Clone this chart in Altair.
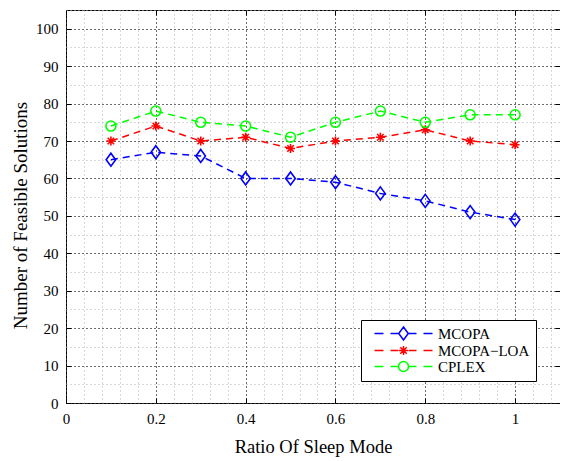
import altair as alt
import pandas as pd

# ---- data ----
ratios = [0.1, 0.2, 0.3, 0.4, 0.5, 0.6, 0.7, 0.8, 0.9, 1.0]
mcopa = [65, 67, 66, 60, 60, 59, 56, 54, 51, 49]
mcopa_loa = [70, 74, 70, 71, 68, 70, 71, 73, 70, 69]
cplex = [74, 78, 75, 74, 71, 75, 78, 75, 77, 77]
series_names = ["MCOPA", "MCOPA\u2212LOA", "CPLEX"]
series_colors = ["#0000FF", "#FF0000", "#00FF00"]

x_major = [0, 0.2, 0.4, 0.6, 0.8, 1.0]
x_minor = [round(0.04 * i, 2) for i in range(28)]
y_major = list(range(0, 101, 10))
y_minor = list(range(0, 106, 5))

rows = []
for name, vals in zip(series_names, [mcopa, mcopa_loa, cplex]):
    for r, v in zip(ratios, vals):
        rows.append({"ratio": r, "value": v, "series": name})
df = pd.DataFrame(rows)

SIZE = 100
FONT = "Liberation Serif"


def diamond(c=0.0):
    return f"M{c:.2f},-1.3L{c+0.95:.2f},0L{c:.2f},1.3L{c-0.95:.2f},0Z"


def asterisk(c=0.0):
    return (f"M{c-0.9:.2f},0L{c+0.9:.2f},0M{c:.2f},-0.9L{c:.2f},0.9"
            f"M{c-0.65:.2f},-0.65L{c+0.65:.2f},0.65M{c-0.65:.2f},0.65L{c+0.65:.2f},-0.65")


def circle(c=0.0):
    return f"M{c+1:.2f},0A1 1 0 1 1 {c-1:.2f} 0A1 1 0 1 1 {c+1:.2f} 0Z"


def dashes(c):
    segs = [(-5.8, -4.0), (-2.6, -1.0), (1.0, 2.6), (4.0, 5.8)]
    return "".join(f"M{c+a:.2f},0L{c+b:.2f},0" for a, b in segs)


C = 5.8
plot_paths = [diamond(), asterisk(), circle()]
legend_paths = [dashes(C) + diamond(C), dashes(C) + asterisk(C), dashes(C) + circle(C)]

xs = alt.Scale(domain=[0, 1.1], nice=False, zero=False)
ys = alt.Scale(domain=[0, 105], nice=False, zero=False)
color_scale = alt.Scale(domain=series_names, range=series_colors)


def grid_axis(values, orient, color):
    return alt.Axis(values=values, grid=True, gridColor=color, gridDash=[1, 3],
                    gridWidth=1, labels=False, ticks=False, domain=False, title=None,
                    orient=orient)


def tick_axis(values, orient):
    return alt.Axis(values=values, grid=False, labels=False, ticks=True, tickSize=5,
                    tickColor="black", tickWidth=1, domain=False, title=None,
                    orient=orient, offset=-5)


major_x = alt.Axis(values=x_major, grid=True, gridColor="black", gridDash=[1, 3],
                   gridWidth=1, ticks=False, tickSize=0, domain=False, format="~g",
                   labelFont=FONT, labelFontSize=15, labelColor="black",
                   labelPadding=8, labelFlush=False, labelOverlap=False,
                   title="Ratio Of Sleep Mode", titleFont=FONT, titleFontSize=18.5,
                   titleFontWeight="normal", titleColor="black", titlePadding=11,
                   orient="bottom")
major_y = alt.Axis(values=y_major, grid=True, gridColor="black", gridDash=[1, 3],
                   gridWidth=1, ticks=False, tickSize=0, domain=False, format="d",
                   labelFont=FONT, labelFontSize=15, labelColor="black",
                   labelPadding=8, labelFlush=False, labelOverlap=False,
                   title="Number of Feasible Solutions", titleFont=FONT, titleFontSize=19,
                   titleFontWeight="normal", titleColor="black", titlePadding=5,
                   titleY=205, orient="left")

legend_layer = alt.Chart(df).transform_filter("datum.value > 1000").mark_point(
    filled=False, size=SIZE, strokeWidth=1.5, opacity=1
).encode(
    x=alt.X("ratio:Q", scale=xs, axis=grid_axis(x_minor, "bottom", "#b0b0b0")),
    y=alt.Y("value:Q", scale=ys, axis=grid_axis(y_minor, "left", "#b0b0b0")),
    shape=alt.Shape("series:N", scale=alt.Scale(domain=series_names, range=legend_paths),
                    legend=alt.Legend(title=None)),
    color=alt.Color("series:N", scale=color_scale, legend=alt.Legend(title=None)),
)

top_ticks = alt.Chart(df).transform_filter("datum.value > 1000").mark_point(opacity=0).encode(
    x=alt.X("ratio:Q", scale=xs, axis=tick_axis(x_major, "top")),
    y=alt.Y("value:Q", scale=ys, axis=tick_axis(y_major, "right")),
)

lines = alt.Chart(df).mark_line(strokeWidth=1.5, strokeDash=[7, 5]).encode(
    x=alt.X("ratio:Q", scale=xs, axis=major_x),
    y=alt.Y("value:Q", scale=ys, axis=major_y),
    color=alt.Color("series:N", scale=color_scale, legend=None),
)

points = alt.Chart(df).mark_point(filled=False, size=SIZE, strokeWidth=1.6, opacity=1).encode(
    x=alt.X("ratio:Q", scale=xs, axis=tick_axis(x_major, "bottom")),
    y=alt.Y("value:Q", scale=ys, axis=tick_axis(y_major, "left")),
    shape=alt.Shape("series:N", scale=alt.Scale(domain=series_names, range=plot_paths),
                    legend=None),
    color=alt.Color("series:N", scale=color_scale, legend=None),
)

chart = alt.layer(legend_layer, top_ticks, lines, points).resolve_scale(
    shape="independent", color="independent"
).resolve_axis(
    x="independent", y="independent"
).properties(
    width=494, height=393,
    autosize=alt.AutoSizeParams(type="none"),
    padding={"left": 58, "top": 2, "right": 0, "bottom": 56},
    background="white",
).configure_view(
    stroke="black", strokeWidth=1
).configure_legend(
    orient="none", legendX=295, legendY=310,
    strokeColor="black", fillColor="white", padding=6, cornerRadius=0,
    labelFont=FONT, labelFontSize=15, labelColor="black", labelOffset=56,
    rowPadding=-3.5, symbolSize=SIZE, symbolStrokeWidth=1.5,
    symbolFillColor="transparent",
)

chart.save("out.html", embed_options={"renderer": "svg", "actions": False})
